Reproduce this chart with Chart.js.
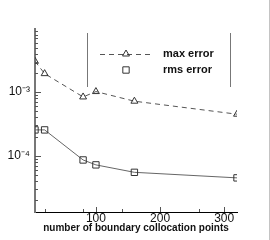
<!DOCTYPE html>
<html>
<head>
<meta charset="utf-8">
<script src="https://cdn.jsdelivr.net/npm/chart.js@4"></script>
<style>
  html, body { margin: 0; padding: 0; background: #fff; }
  #wrap { width: 269px; height: 240px; border-right: 1px solid #c4c4c4; position: relative; }
</style>
</head>
<body>
<div id="wrap"><canvas id="errChart"></canvas></div>
<script>
// data
const collocationPoints = [5, 20, 80, 100, 160, 320];
const maxError = [3.05e-3, 1.95e-3, 8.4e-4, 1.02e-3, 7.2e-4, 4.5e-4];
const rmsError = [2.55e-4, 2.55e-4, 8.6e-5, 7.2e-5, 5.5e-5, 4.5e-5];
const seriesLabels = ['max error', 'rms error'];

// axis ticks
const xMajorTicks = [100, 200, 300];
const xMinorTicks = [20, 80, 140, 260];
const yMajorTicks = [1e-4, 1e-3];
const yMajorLabels = ['10\u207B\u2074', '10\u207B\u00B3'];
const yMinorMultipliers = [2, 3, 4, 5, 6, 7, 8, 9];
const yDecades = [1e-5, 1e-4, 1e-3];

const FONT = "'Liberation Sans', Arial, sans-serif";

// draws ticks pointing into the plot, like the original
const inwardTicks = {
    id: 'inwardTicks',
    afterDraw(chart) {
        const { ctx, chartArea } = chart;
        const xs = chart.scales.x, ys = chart.scales.y;
        ctx.save();
        ctx.strokeStyle = '#555';
        ctx.lineWidth = 1;
        const xTick = (v, len) => {
            const px = Math.round(xs.getPixelForValue(v)) + 0.5;
            ctx.beginPath();
            ctx.moveTo(px, chartArea.bottom);
            ctx.lineTo(px, chartArea.bottom - len);
            ctx.stroke();
        };
        xMajorTicks.forEach(v => xTick(v, 5));
        xMinorTicks.forEach(v => xTick(v, 3));

        const yTick = (v, len) => {
            if (v < ys.min || v > ys.max) return;
            const py = Math.round(ys.getPixelForValue(v)) + 0.5;
            ctx.beginPath();
            ctx.moveTo(chartArea.left, py);
            ctx.lineTo(chartArea.left + len, py);
            ctx.stroke();
        };
        yMajorTicks.forEach(v => yTick(v, 6));
        yDecades.forEach(d => yMinorMultipliers.forEach(m => yTick(d * m, 3)));
        ctx.restore();
    }
};

// legend box with only the two side rules
const sideLegend = {
    id: 'sideLegend',
    afterDraw(chart, args, opts) {
        const { ctx, chartArea } = chart;
        const left = chartArea.left + opts.left;
        const right = chartArea.right - opts.right;
        const top = chartArea.top + opts.top;
        const bottom = top + opts.height;
        ctx.save();
        ctx.strokeStyle = '#777';
        ctx.lineWidth = 1;
        [left, right].forEach(x => {
            ctx.beginPath();
            ctx.moveTo(x + 0.5, top);
            ctx.lineTo(x + 0.5, bottom);
            ctx.stroke();
        });
        chart.data.datasets.forEach((ds, i) => {
            const y = top + opts.firstRow + i * opts.rowGap;
            const mx = left + opts.markerX;
            if (opts.showLine[i]) {
                ctx.strokeStyle = ds.borderColor;
                ctx.lineWidth = 1;
                ctx.setLineDash(ds.borderDash || []);
                ctx.beginPath();
                ctx.moveTo(left + opts.lineFrom, y + 0.5);
                ctx.lineTo(left + opts.lineTo, y + 0.5);
                ctx.stroke();
                ctx.setLineDash([]);
            }
            // hollow marker, same look as in the plot
            ctx.strokeStyle = ds.pointBorderColor;
            ctx.fillStyle = ds.pointBackgroundColor;
            ctx.lineWidth = ds.pointBorderWidth;
            Chart.helpers.drawPoint(ctx, {
                pointStyle: ds.pointStyle,
                radius: ds.pointRadius,
                borderWidth: ds.pointBorderWidth,
                rotation: 0
            }, mx, y);
            ctx.fillStyle = '#111';
            ctx.font = 'bold 11px ' + FONT;
            ctx.textBaseline = 'middle';
            ctx.textAlign = 'left';
            ctx.fillText(ds.label, left + opts.textX, y);
        });
        ctx.restore();
    }
};

const ctx = document.getElementById('errChart').getContext('2d');
new Chart(ctx, {
    type: 'line',
    data: {
        datasets: [{
            label: seriesLabels[0],
            data: collocationPoints.map((x, i) => ({ x, y: maxError[i] })),
            borderColor: '#555',
            borderWidth: 1,
            borderDash: [5, 4],
            pointStyle: 'triangle',
            pointRadius: 4,
            pointBorderWidth: 1,
            pointBorderColor: '#333',
            pointBackgroundColor: 'rgba(0,0,0,0)',
            fill: false,
            tension: 0
        }, {
            label: seriesLabels[1],
            data: collocationPoints.map((x, i) => ({ x, y: rmsError[i] })),
            borderColor: '#666',
            borderWidth: 1,
            pointStyle: 'rect',
            pointRadius: 4.5,
            pointBorderWidth: 1,
            pointBorderColor: '#333',
            pointBackgroundColor: 'rgba(0,0,0,0)',
            fill: false,
            tension: 0
        }]
    },
    options: {
        responsive: true,
        maintainAspectRatio: false,
        animation: false,
        layout: { padding: { top: 29, right: 32, bottom: 7, left: 0 } },
        scales: {
            x: {
                type: 'linear',
                min: 5,
                max: 320,
                afterBuildTicks: (scale) => { scale.ticks = xMajorTicks.map(v => ({ value: v })); },
                grid: { display: false, drawTicks: false },
                border: { display: true, color: '#000', width: 1 },
                ticks: {
                    padding: 1,
                    color: '#111',
                    font: { family: FONT, size: 12, lineHeight: 1 }
                },
                title: {
                    display: true,
                    text: 'number of boundary collocation points',
                    color: '#111',
                    font: { family: FONT, size: 10, weight: 'bold', lineHeight: 1 },
                    padding: { top: -3, bottom: 0 }
                }
            },
            y: {
                type: 'logarithmic',
                min: 1.31e-5,
                max: 9.8e-3,
                afterBuildTicks: (scale) => { scale.ticks = yMajorTicks.map(v => ({ value: v })); },
                afterFit: (scale) => { scale.width = 35; },
                grid: { display: false, drawTicks: false },
                border: { display: true, color: '#777', width: 2 },
                ticks: {
                    padding: 5,
                    color: '#111',
                    font: { family: FONT, size: 12 },
                    callback: (value) => {
                        const i = yMajorTicks.findIndex(t => Math.abs(t - value) / t < 1e-6);
                        return i >= 0 ? yMajorLabels[i] : '';
                    }
                }
            }
        },
        plugins: {
            legend: { display: false },
            tooltip: { enabled: false },
            sideLegend: {
                left: 52, right: 7, top: 4, height: 54,
                firstRow: 21, rowGap: 16,
                lineFrom: 13, lineTo: 63, markerX: 39, textX: 76,
                showLine: [true, false]
            }
        }
    },
    plugins: [inwardTicks, sideLegend]
});
</script>
</body>
</html>
